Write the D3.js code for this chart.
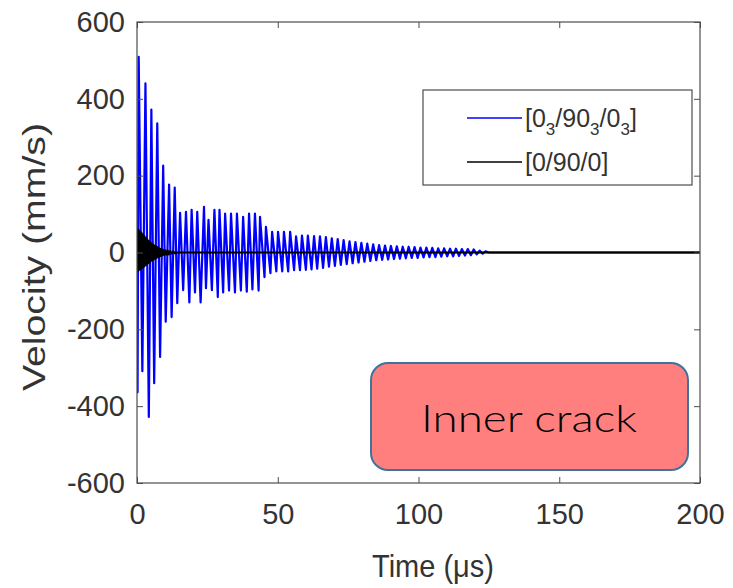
<!DOCTYPE html>
<html>
<head>
<meta charset="utf-8">
<script src="https://cdn.jsdelivr.net/npm/d3@7"></script>
<style>
  body { margin: 0; background: #fff; }
  svg { display: block; }
</style>
</head>
<body>
<div id="chart"></div>
<script>
// tick values
const xTicks = [0, 50, 100, 150, 200];
const yTicks = [-600, -400, -200, 0, 200, 400, 600];

// [0_3/90_3/0_3] response, peaks and troughs (time in us, velocity in mm/s)
const blueTime = [0.0, 0.2, 0.6, 1.9, 3.0, 4.2, 5.1, 6.1, 7.2, 8.2, 9.3, 10.2, 11.4, 12.3, 13.4, 14.3, 15.3,
  16.4, 17.4, 18.6, 19.4, 20.6, 21.4, 22.6, 23.8, 24.5, 25.4, 26.6, 27.5, 28.7, 29.3, 30.6, 31.3,
  32.7, 33.4, 34.8, 35.5, 36.9, 37.7, 39.0, 39.8, 41.0, 41.9, 43.2, 43.7, 45.3, 45.8, 47.4, 48.0,
  49.5, 50.1, 51.6, 52.2, 53.7, 54.4, 55.8, 56.5, 57.9, 58.6, 60.0, 60.7, 62.0, 62.9,
  64.0, 65.0, 66.1, 67.1, 68.2, 69.2, 70.3, 71.3, 72.4, 73.4, 74.5, 75.5, 76.6, 77.6, 78.7, 79.7,
  80.8, 81.8, 82.9, 83.9, 85.0, 86.0, 87.1, 88.1, 89.2, 90.2, 91.3, 92.3, 93.4, 94.4, 95.5, 96.5,
  97.6, 98.6, 99.7, 100.7, 101.8, 102.8, 103.9, 104.9, 106.0, 107.0, 108.1, 109.1, 110.2, 111.2,
  112.3, 113.3, 114.4, 115.4, 116.5, 117.5, 118.6, 119.6, 120.7, 121.7, 122.8, 123.8, 125.0, 200.0];
const blueVel = [0, -364, 509, -309, 440, -428, 372, -340, 336, -272, 226, -180, 177, -168, 169, -132, 103,
  -98, 106, -130, 111, -104, 106, -130, 119, -93, 85, -98, 111, -116, 111, -104, 101,
  -99, 101, -104, 101, -99, 93, -102, 101, -96, 101, -99, 93, -64, 67, -54, 54,
  -49, 54, -49, 54, -49, 54, -46, 42, -46, 44, -45, 44, -44, 43,
  -42, 42, -40, 40, -37, 37, -35, 35, -32, 32, -30, 29, -28, 27, -26, 25,
  -24, 23, -22, 21, -20, 19, -19, 18, -18, 17, -17, 16, -16, 15, -15, 15,
  -14, 14, -14, 13, -13, 13, -12, 12, -12, 11, -11, 11, -10, 10,
  -10, 10, -9, 9, -8, 9, -7, 8, -5, 5, -3, 3, 0, 0];

// [0/90/0] response, short burst near t = 0
const blackTime = [0, 0.2, 0.45, 0.7, 0.95, 1.2, 1.45, 1.7, 1.95, 2.2, 2.45, 2.7, 2.95, 3.2, 3.45, 3.7, 3.95,
  4.2, 4.45, 4.7, 4.95, 5.2, 5.45, 5.7, 5.95, 6.2, 6.45, 6.7, 6.95, 7.2, 7.45, 7.7, 7.95,
  8.2, 8.45, 8.7, 8.95, 9.3, 9.7, 10.1, 10.5, 10.9, 11.3, 11.8, 12.3, 12.9, 13.5, 14.5, 200];
const blackVel = [0, 62, -48, 58, -45, 54, -42, 50, -40, 46, -37, 42, -34, 38, -31, 34, -28,
  30, -25, 27, -22, 24, -20, 21, -18, 18, -16, 16, -14, 14, -12, 12, -11,
  10, -9, 9, -8, 7, -7, 6, -6, 5, -5, 4, -3, 3, -2, 0, 0];

const series = [
  {name: 'blue', label: ['[0', '3', '/90', '3', '/0', '3', ']'], color: '#0000ff', width: 2.2, time: blueTime, vel: blueVel},
  {name: 'black', label: ['[0/90/0]'], color: '#000000', width: 2, time: blackTime, vel: blackVel}
];

const W = 733, H = 588;
const margin = {top: 22, right: 33, bottom: 105, left: 137};
const axisColor = '#4d4d4d', textColor = '#333';

const svg = d3.select('#chart').append('svg')
    .attr('width', W)
    .attr('height', H);

const x = d3.scaleLinear().domain([0, 200]).range([margin.left, W - margin.right]);
const y = d3.scaleLinear().domain([-600, 600]).range([H - margin.bottom, margin.top]);

// clip the traces to the axes box
svg.append('clipPath').attr('id', 'clip')
  .append('rect')
    .attr('x', x(0)).attr('y', y(600))
    .attr('width', x(200) - x(0)).attr('height', y(-600) - y(600));

const line = d3.line()
    .x(d => x(d[0]))
    .y(d => y(d[1]));

const plot = svg.append('g').attr('clip-path', 'url(#clip)');
series.forEach(s => {
  plot.append('path')
      .datum(s.time.map((t, i) => [t, s.vel[i]]))
      .attr('fill', 'none')
      .attr('stroke', s.color)
      .attr('stroke-width', s.width)
      .attr('stroke-linejoin', 'round')
      .attr('d', line);
});

// axes, ticks inward on all four sides (matlab box style)
const tickLen = 6;
const fmt = d => String(d); // plain hyphen minus like the original
const styleAxis = g => {
  g.select('.domain').remove();
  g.selectAll('.tick line').attr('stroke', axisColor);
  g.selectAll('.tick text')
      .attr('fill', textColor)
      .style('font-family', 'Liberation Sans, Arial, sans-serif')
      .style('font-size', '29px');
};

svg.append('g')
    .attr('transform', `translate(0,${y(-600)})`)
    .call(d3.axisBottom(x).tickValues(xTicks).tickFormat(fmt).tickSizeInner(-tickLen).tickSizeOuter(0).tickPadding(20))
    .call(styleAxis);
svg.append('g')
    .attr('transform', `translate(0,${y(600)})`)
    .call(d3.axisTop(x).tickValues(xTicks).tickSizeInner(-tickLen).tickSizeOuter(0).tickFormat(''))
    .call(styleAxis);
svg.append('g')
    .attr('transform', `translate(${x(0)},0)`)
    .call(d3.axisLeft(y).tickValues(yTicks).tickFormat(fmt).tickSizeInner(-tickLen).tickSizeOuter(0).tickPadding(12))
    .call(styleAxis);
svg.append('g')
    .attr('transform', `translate(${x(200)},0)`)
    .call(d3.axisRight(y).tickValues(yTicks).tickSizeInner(-tickLen).tickSizeOuter(0).tickFormat(''))
    .call(styleAxis);

svg.append('rect')
    .attr('x', x(0)).attr('y', y(600))
    .attr('width', x(200) - x(0)).attr('height', y(-600) - y(600))
    .attr('fill', 'none')
    .attr('stroke', axisColor)
    .attr('stroke-width', 1.2);

// axis titles
svg.append('text')
    .attr('x', 433).attr('y', 577)
    .attr('text-anchor', 'middle')
    .attr('textLength', 122).attr('lengthAdjust', 'spacingAndGlyphs')
    .attr('fill', textColor)
    .style('font-family', 'Liberation Sans, Arial, sans-serif')
    .style('font-size', '32px')
    .text('Time (μs)');

svg.append('text')
    .attr('transform', 'translate(45,257) rotate(-90)')
    .attr('text-anchor', 'middle')
    .attr('textLength', 268).attr('lengthAdjust', 'spacingAndGlyphs')
    .attr('fill', textColor)
    .style('font-family', 'Liberation Sans, Arial, sans-serif')
    .style('font-size', '32px')
    .text('Velocity (mm/s)');

// legend
const legend = svg.append('g');
legend.append('rect')
    .attr('x', 423).attr('y', 90).attr('width', 269).attr('height', 95)
    .attr('fill', '#fff')
    .attr('stroke', axisColor)
    .attr('stroke-width', 1.2);

series.forEach((s, i) => {
  const ly = 118 + i * 44;
  legend.append('line')
      .attr('x1', 467).attr('x2', 522)
      .attr('y1', ly).attr('y2', ly)
      .attr('stroke', s.color)
      .attr('stroke-width', 1.5);
  const t = legend.append('text')
      .attr('x', 525).attr('y', ly + 9)
      .attr('fill', textColor)
      .style('font-family', 'Liberation Sans, Arial, sans-serif')
      .style('font-size', '25px');
  // odd parts of the label are subscripts
  s.label.forEach((part, j) => {
    const sub = j % 2 === 1;
    t.append('tspan')
        .attr('dy', sub ? 8 : (j > 0 ? -8 : 0))
        .style('font-size', sub ? '17px' : '25px')
        .text(part);
  });
});

// annotation box
svg.append('rect')
    .attr('x', 371).attr('y', 363).attr('width', 317).attr('height', 107)
    .attr('rx', 17).attr('ry', 17)
    .attr('fill', '#ff7f7f')
    .attr('stroke', '#41719c')
    .attr('stroke-width', 2);

svg.append('text')
    .attr('x', 529).attr('y', 432)
    .attr('text-anchor', 'middle')
    .attr('textLength', 216).attr('lengthAdjust', 'spacingAndGlyphs')
    .attr('fill', '#000')
    .style('font-family', 'Lato, sans-serif')
    .style('font-weight', 300)
    .style('font-size', '38px')
    .text('Inner crack');
</script>
</body>
</html>
